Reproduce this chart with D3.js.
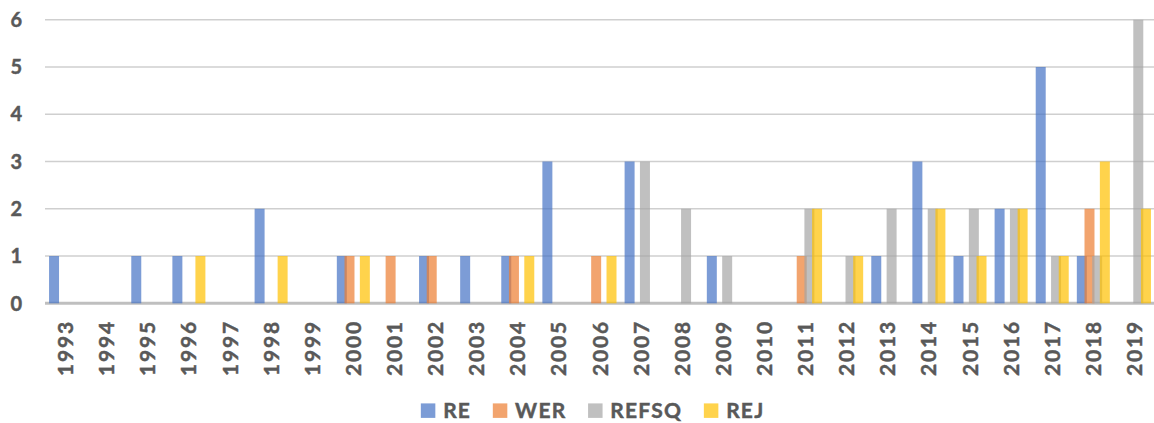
<!DOCTYPE html>
<html>
<head>
<meta charset="utf-8">
<script src="https://cdn.jsdelivr.net/npm/d3@7"></script>
<style>
  body { margin: 0; background: #fff; }
  svg { display: block; }
  text { font-family: Lato, 'Open Sans', sans-serif; font-weight: 700; fill: #595959; stroke: #595959; stroke-width: 0.45px; }
</style>
</head>
<body>
<svg id="chart" width="1154" height="423"></svg>
<script>
const years = ['1993','1994','1995','1996','1997','1998','1999','2000','2001','2002','2003','2004','2005','2006',
  '2007','2008','2009','2010','2011','2012','2013','2014','2015','2016','2017','2018','2019'];
const seriesNames = ['RE', 'WER', 'REFSQ', 'REJ'];
const re    = [1,0,1,1,0,2,0,1,0,1,1,1,3,0,3,0,1,0,0,0,1,3,1,2,5,1,0];
const wer   = [0,0,0,0,0,0,0,1,1,1,0,1,0,1,0,0,0,0,1,0,0,0,0,0,0,2,0];
const refsq = [0,0,0,0,0,0,0,0,0,0,0,0,0,0,3,2,1,0,2,1,2,2,2,2,1,1,6];
const rej   = [0,0,0,1,0,1,0,1,0,0,0,1,0,1,0,0,0,0,2,1,0,2,1,2,1,3,2];
const yTicks = [0, 1, 2, 3, 4, 5, 6];

const seriesValues = [re, wer, refsq, rej];
const colors = ['#4472C4', '#ED7D31', '#A5A5A5', '#FFC000'];

const svg = d3.select('#chart');
const plotLeft = 45, plotRight = 1155, plotTop = 19.7, plotBottom = 303.3;

const x = d3.scaleBand().domain(years).range([plotLeft, plotRight]).padding(0);
const y = d3.scaleLinear().domain([0, 6]).range([plotBottom, plotTop]);
const color = d3.scaleOrdinal().domain(seriesNames).range(colors);

// bars overlap a little inside each year, like the original
const barW = x.bandwidth() * 0.243;
const offset = d3.scalePoint().domain(seriesNames).range([-x.bandwidth() * 0.28, x.bandwidth() * 0.28]);

// gridlines
svg.append('g')
  .selectAll('line')
  .data(yTicks.filter(d => d > 0))
  .join('line')
  .attr('x1', plotLeft).attr('x2', plotRight)
  .attr('y1', d => y(d)).attr('y2', d => y(d))
  .attr('stroke', '#CFCFCF')
  .attr('stroke-width', 1.5);

// y labels
svg.append('g')
  .selectAll('text')
  .data(yTicks)
  .join('text')
  .attr('x', 22)
  .attr('y', d => y(d))
  .attr('dy', '0.36em')
  .attr('text-anchor', 'end')
  .style('font-size', '20px')
  .text(d => d);

// baseline
svg.append('line')
  .attr('x1', plotLeft).attr('x2', plotRight)
  .attr('y1', y(0)).attr('y2', y(0))
  .attr('stroke', '#BFBFBF')
  .attr('stroke-width', 3);

// bars
const rows = [];
seriesNames.forEach((s, si) => {
  years.forEach((yr, i) => {
    const v = seriesValues[si][i];
    if (v > 0) rows.push({ series: s, year: yr, value: v });
  });
});

svg.append('g')
  .selectAll('rect')
  .data(rows)
  .join('rect')
  .attr('x', d => x(d.year) + x.bandwidth() / 2 + offset(d.series) - barW / 2)
  .attr('width', barW)
  .attr('y', d => y(d.value))
  .attr('height', d => y(0) - y(d.value))
  .attr('fill', d => color(d.series))
  .attr('fill-opacity', 0.7);

// x labels, rotated
const xAxis = svg.append('g')
  .attr('transform', `translate(0, 320)`)
  .call(d3.axisBottom(x).tickSize(0).tickPadding(0));
xAxis.select('.domain').remove();
xAxis.selectAll('text')
  .attr('transform', 'rotate(-90)')
  .attr('x', 0)
  .attr('y', 0)
  .attr('dy', '0.36em')
  .attr('text-anchor', 'end')
  .attr('fill', '#595959')
  .style('font-family', "Lato, 'Open Sans', sans-serif")
  .style('font-size', '21px')
  .style('font-weight', 700)
  .style('letter-spacing', '1.8px');

// legend
const legend = svg.append('g');
let cx = 0;
seriesNames.forEach(s => {
  const item = legend.append('g').attr('transform', `translate(${cx},0)`);
  item.append('rect')
    .attr('x', 0).attr('y', -14.3)
    .attr('width', 14.5).attr('height', 14.5)
    .attr('fill', color(s))
    .attr('fill-opacity', 0.7);
  const t = item.append('text')
    .attr('x', 22.3)
    .attr('y', 0)
    .style('font-size', '21px')
    .style('letter-spacing', '1.2px')
    .text(s);
  cx += 22.3 + t.node().getComputedTextLength() + 21.7;
});
const legendW = cx - 21.7;
legend.attr('transform', `translate(${592.6 - legendW / 2}, 417.7)`);
</script>
</body>
</html>
